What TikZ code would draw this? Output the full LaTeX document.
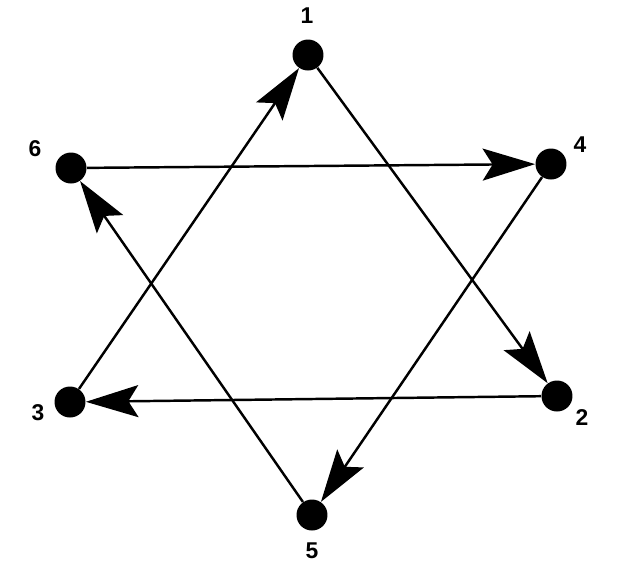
\documentclass[tikz,border=0pt]{standalone}
\usepackage{fontspec}
\setmainfont{Liberation Sans}
\usetikzlibrary{arrows.meta}

\begin{document}
\begin{tikzpicture}[
    x=0.02cm, y=-0.02cm,
    >={Stealth[length=10.5mm, width=6.4mm, inset=2mm]},
    dot/.style={circle, fill=black, inner sep=0pt, minimum size=6.2mm},
    num/.style={font=\fontsize{13}{15}\selectfont\bfseries},
    edge/.style={->, line width=1.4pt},
]
\useasboundingbox (0,0) rectangle (640,562);

% vertices
\node[dot] (v1) at (308,55) {};
\node[dot] (v2) at (557,396) {};
\node[dot] (v3) at (70,402) {};
\node[dot] (v4) at (551,164) {};
\node[dot] (v5) at (312,515) {};
\node[dot] (v6) at (71,168) {};

% labels
\node[num] (l1) at (307,16) {1};
\node[num] (l2) at (582,418) {2};
\node[num] (l3) at (38,413) {3};
\node[num] (l4) at (580,145) {4};
\node[num] (l5) at (312,551) {5};
\node[num] (l6) at (35,149) {6};

% first triangle 1 -> 2 -> 3 -> 1
\draw[edge] (v1) -- (v2);
\draw[edge] (v2) -- (v3);
\draw[edge] (v3) -- (v1);
% second triangle 4 -> 5 -> 6 -> 4
\draw[edge] (v4) -- (v5);
\draw[edge] (v5) -- (v6);
\draw[edge] (v6) -- (v4);
\end{tikzpicture}
\end{document}
